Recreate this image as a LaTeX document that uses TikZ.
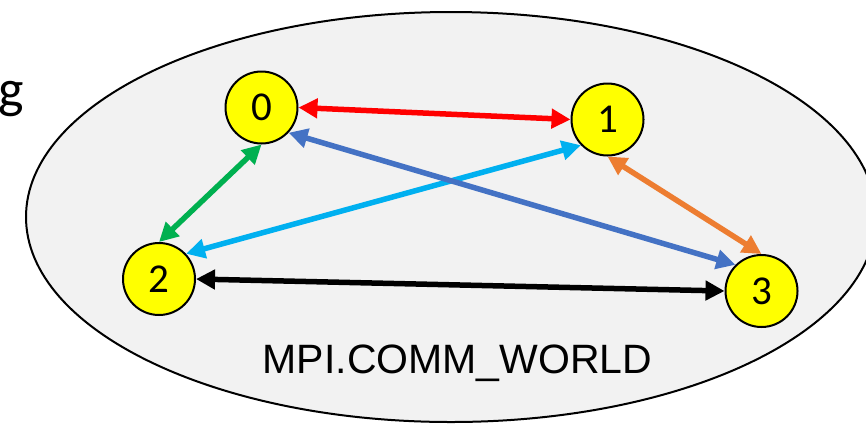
\documentclass[tikz,border=0pt]{standalone}
\usepackage{fontspec}
\setmainfont{Carlito}
\newfontfamily\labelfont{Liberation Sans}
\usetikzlibrary{arrows.meta}
\definecolor{worldfill}{RGB}{242,242,242}
\definecolor{rankfill}{RGB}{255,255,0}
\definecolor{cred}{RGB}{255,0,0}
\definecolor{cgreen}{RGB}{0,176,80}
\definecolor{clightblue}{RGB}{0,176,240}
\definecolor{cblue}{RGB}{68,114,196}
\definecolor{corange}{RGB}{237,125,49}
\tikzset{
  rank/.style={circle, draw=black, line width=2pt, fill=rankfill,
    minimum size=72pt, inner sep=0pt,
    font=\fontsize{41}{41}\selectfont},
  link/.style={line width=5.5pt,
    {Triangle[length=19pt,width=19pt]}-{Triangle[length=19pt,width=19pt]}},
}
\begin{document}
\begin{tikzpicture}[x=1pt,y=-1pt]
  \useasboundingbox (0,0) rectangle (866,424);
  \begin{scope}
    \clip (0,0) rectangle (866,424);
    % communicator
    \draw[line width=2pt, fill=worldfill] (451,217) ellipse [x radius=425pt, y radius=205pt];
  \end{scope}
  \node[anchor=base east, inner sep=0pt, font=\fontsize{54}{54}\selectfont] (cut) at (24,107) {g};
  \node[anchor=base, inner sep=0pt, font=\labelfont\fontsize{41}{41}\selectfont] (world) at (457.5,373) {MPI.COMM\_WORLD};
  % ranks
  \node[rank] (n0) at (261.5,107.5) {0};
  \node[rank] (n1) at (607.5,119.5) {1};
  \node[rank] (n2) at (159,279) {2};
  \node[rank] (n3) at (761.5,291) {3};
  % point-to-point links
  \draw[link, draw=cred, fill=cred] (n0.east) -- (n1.west);
  \draw[link, draw=cgreen, fill=cgreen] (n0.south) -- (n2.north);
  \draw[link, draw=clightblue, fill=clightblue] (n1.224) -- (n2.43);
  \draw[link, draw=cblue, fill=cblue] (n0.317) -- (n3.135);
  \draw[link, draw=corange, fill=corange] (n1.south) -- (n3.north);
  \draw[link, draw=black, fill=black] (n2.east) -- (n3.west);
\end{tikzpicture}
\end{document}
